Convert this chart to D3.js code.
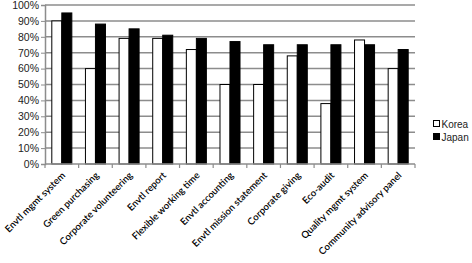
<!DOCTYPE html>
<html>
<head>
<meta charset="utf-8">
<script src="https://cdn.jsdelivr.net/npm/d3@7"></script>
<style>
  body { margin: 0; background: #fff; }
  svg { display: block; }
</style>
</head>
<body>
<div id="chart"></div>
<script>
// chart data
const categories = ['Envtl mgmt system', 'Green purchasing', 'Corporate volunteering', 'Envtl report',
    'Flexible working time', 'Envtl accounting', 'Envtl mission statement', 'Corporate giving',
    'Eco-audit', 'Quality mgmt system', 'Community advisory panel'];
const korea = [90, 60, 79, 79, 72, 50, 50, 68, 38, 78, 60];
const japan = [95, 88, 85, 81, 79, 77, 75, 75, 75, 75, 72];
const seriesNames = ['Korea', 'Japan'];
const yTicks = [0, 10, 20, 30, 40, 50, 60, 70, 80, 90, 100];

const width = 472, height = 263;
const plotLeft = 45, plotRight = 415, plotTop = 5, plotBottom = 164;

const svg = d3.select('#chart').append('svg')
    .attr('width', width)
    .attr('height', height);

const x = d3.scaleBand().domain(categories).range([plotLeft, plotRight]);
const xs = d3.scaleBand().domain(seriesNames).range([0, x.bandwidth()]).paddingInner(0).paddingOuter(0.68);
const y = d3.scaleLinear().domain([0, 100]).range([plotBottom, plotTop]);

// gridlines
svg.append('g')
    .selectAll('line')
    .data(yTicks.filter(d => d > 0))
    .enter().append('line')
    .attr('x1', plotLeft).attr('x2', plotRight)
    .attr('y1', d => y(d)).attr('y2', d => y(d))
    .attr('stroke', '#8c8c8c')
    .attr('stroke-width', 1.5);

// y axis
const yAxis = d3.axisLeft(y).tickValues(yTicks).tickFormat(d => d + '%').tickSize(4).tickPadding(2);
const gy = svg.append('g').attr('transform', `translate(${plotLeft},0)`).call(yAxis);
gy.select('.domain').attr('stroke', '#8c8c8c').attr('stroke-width', 1.5);
gy.selectAll('.tick line').attr('stroke', '#8c8c8c');
gy.selectAll('text').attr('font-family', 'Liberation Sans, Arial, sans-serif').attr('font-size', 10.5).attr('fill', '#222');

// bars
const groups = svg.append('g').selectAll('g')
    .data(categories.map((c, i) => ({c, vals: [korea[i], japan[i]]})))
    .enter().append('g')
    .attr('transform', d => `translate(${x(d.c)},0)`);

groups.selectAll('rect')
    .data(d => d.vals.map((v, j) => ({s: seriesNames[j], v})))
    .enter().append('rect')
    .attr('x', d => xs(d.s))
    .attr('width', xs.bandwidth())
    .attr('y', d => y(d.v))
    .attr('height', d => plotBottom - y(d.v))
    .attr('fill', d => d.s === 'Korea' ? '#fff' : '#000')
    .attr('stroke', '#000')
    .attr('stroke-width', 1);

// x axis with ticks at band boundaries
const xEdges = categories.map(c => x(c)).concat([plotRight]);
const gx = svg.append('g');
gx.append('line')
    .attr('x1', plotLeft).attr('x2', plotRight)
    .attr('y1', plotBottom).attr('y2', plotBottom)
    .attr('stroke', '#8c8c8c').attr('stroke-width', 1.5);
gx.selectAll('.xt')
    .data(xEdges)
    .enter().append('line')
    .attr('class', 'xt')
    .attr('x1', d => d).attr('x2', d => d)
    .attr('y1', plotBottom).attr('y2', plotBottom + 4)
    .attr('stroke', '#8c8c8c').attr('stroke-width', 1.2);

gx.selectAll('.xl')
    .data(categories)
    .enter().append('text')
    .attr('class', 'xl')
    .attr('transform', d => `translate(${x(d) + x.bandwidth() / 2 + 4},${plotBottom + 12}) rotate(-45)`)
    .attr('text-anchor', 'end')
    .attr('font-family', 'Lato, Open Sans, sans-serif')
    .attr('font-size', 9.6)
    .attr('font-weight', 600)
    .attr('fill', '#000')
    .text(d => d);

// legend
const legend = svg.append('g').selectAll('g')
    .data(seriesNames)
    .enter().append('g')
    .attr('transform', (d, i) => `translate(433.5,${120.5 + i * 13})`);

legend.append('rect')
    .attr('width', 6).attr('height', 6)
    .attr('fill', d => d === 'Korea' ? '#fff' : '#000')
    .attr('stroke', '#000');

legend.append('text')
    .attr('x', 8).attr('y', 7)
    .attr('font-family', 'Liberation Sans, Arial, sans-serif')
    .attr('font-size', 10)
    .attr('fill', '#222')
    .text(d => d);
</script>
</body>
</html>
